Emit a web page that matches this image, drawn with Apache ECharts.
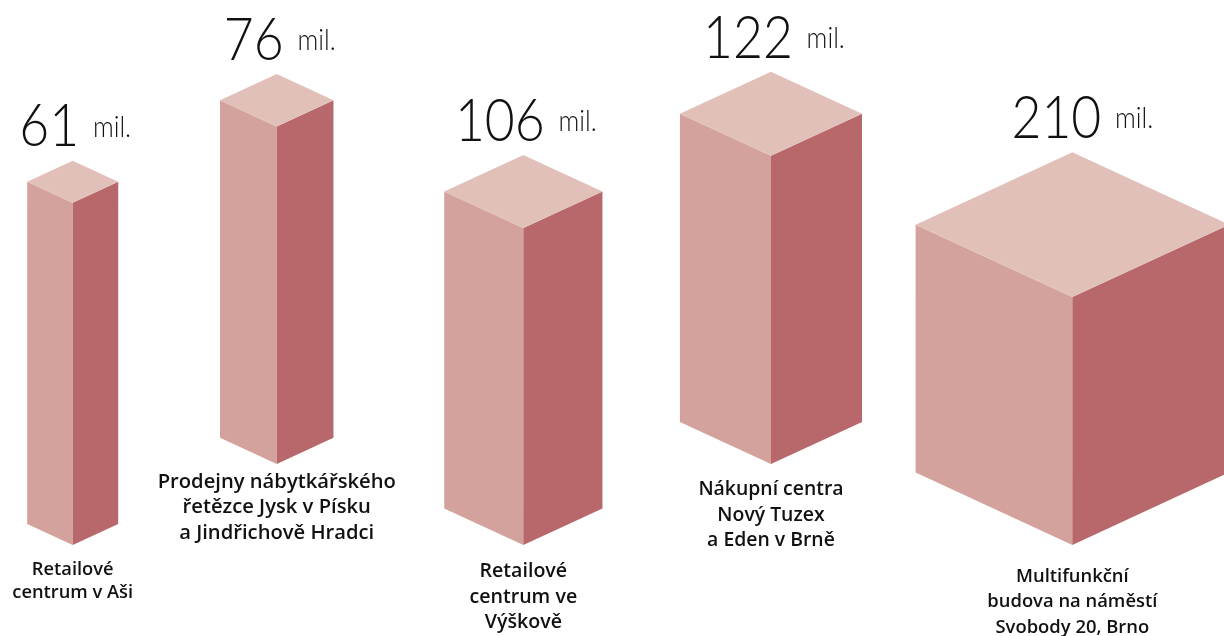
<!DOCTYPE html>
<html>
<head>
<meta charset="utf-8">
<script src="https://cdn.jsdelivr.net/npm/echarts@6/dist/echarts.min.js"></script>
<style>
  html, body { margin: 0; padding: 0; background: #ffffff; }
  #chart { width: 1224px; height: 636px; }
</style>
</head>
<body>
<div id="chart"></div>
<script>
// ---- data ----
const categories = [
  'Retailové\ncentrum v Aši',
  'Prodejny nábytkářského\nřetězce Jysk v Písku\na Jindřichově Hradci',
  'Retailové\ncentrum ve\nVýškově',
  'Nákupní centra\nNový Tuzex\na Eden v Brně',
  'Multifunkční\nbudova na náměstí\nSvobody 20, Brno'
];
const values = [61, 76, 106, 122, 210];
const unitLabel = 'mil.';

// ---- layout (axis units / pixels; not data) ----
const centerX = [48.7, 185.4, 350.6, 516.5, 718.4];
const baseY = [61, 115.2, 61, 115.2, 61];
const boxHeight = [257.4, 261.2, 261.2, 262.8, 263.0];
const slope = 0.462;
const labelGap = [13, 5, 14, 13, 19];
const labelSize = [18.3, 20.2, 19.6, 19.4, 18.4];
const labelLine = [23, 25.5, 25.5, 25.5, 25.5];
const valueDx = [2.5, 3, 2.5, 3, 10];

const colors = { top: '#e2c0ba', left: '#d4a29c', right: '#b8686a' };

const chart = echarts.init(document.getElementById('chart'), null, { renderer: 'canvas' });

const seriesData = values.map((v, i) => [centerX[i], baseY[i], v]);

function renderItem(params, api) {
  const i = params.dataIndex;
  const v = api.value(2);
  const p = api.coord([api.value(0), api.value(1)]);
  const hw = api.size([v / 2, 0])[0];
  const dy = hw * slope;
  const H = api.size([0, boxHeight[i]])[1];
  const x = p[0], yb = p[1];
  const yt = yb - H;
  const topV = [x, yt];
  const lT = [x - hw, yt + dy];
  const fT = [x, yt + 2 * dy];
  const rT = [x + hw, yt + dy];
  const lB = [x - hw, yb - dy];
  const rB = [x + hw, yb - dy];
  const fB = [x, yb];
  return {
    type: 'group',
    children: [
      { type: 'polygon', shape: { points: [lT, fT, fB, lB] }, style: { fill: colors.left } },
      { type: 'polygon', shape: { points: [fT, rT, rB, fB] }, style: { fill: colors.right } },
      { type: 'polygon', shape: { points: [topV, rT, fT, lT] }, style: { fill: colors.top } },
      {
        type: 'text',
        x: x + valueDx[i], y: yt - 1.5,
        scaleX: 0.86,
        style: {
          text: '{n|' + v + '}{u|' + unitLabel + '}',
          align: 'center', verticalAlign: 'bottom',
          rich: {
            n: { fontFamily: 'Lato', fontWeight: 300, fontSize: 60, fill: '#111111', lineHeight: 64 },
            u: { fontFamily: 'Lato', fontWeight: 300, fontSize: 30, fill: '#111111', lineHeight: 64, padding: [0, 0, 0, 16] }
          }
        }
      },
      {
        type: 'text',
        x: x, y: yb + labelGap[i],
        style: {
          text: categories[i],
          align: 'center', verticalAlign: 'top',
          fontFamily: 'Open Sans', fontWeight: 600, fontSize: labelSize[i],
          lineHeight: labelLine[i], fill: '#111111'
        }
      }
    ]
  };
}

chart.setOption({
  animation: false,
  grid: { left: 0, right: 0, top: 0, bottom: 0 },
  xAxis: { type: 'value', min: 0, max: 820, show: false },
  yAxis: { type: 'value', min: 0, max: 426, show: false },
  series: [{
    type: 'custom',
    renderItem: renderItem,
    data: seriesData,
    clip: false
  }]
});
</script>
</body>
</html>
